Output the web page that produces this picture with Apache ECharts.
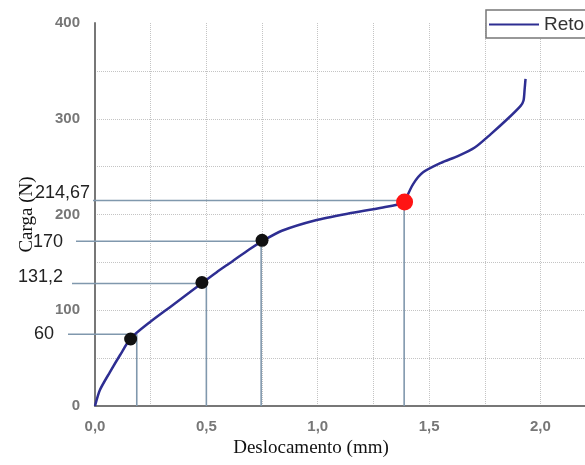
<!DOCTYPE html>
<html>
<head>
<meta charset="utf-8">
<script src="https://cdnjs.cloudflare.com/ajax/libs/echarts/6.0.0/echarts.min.js"></script>
<style>
  html, body { margin: 0; padding: 0; background: #fff; }
  #myChart { width: 585px; height: 465px; }
</style>
</head>
<body>
<div id="myChart"></div>
<script type="text/javascript">

  // curve (displacement mm, load N)
  var curveX = [0, 0.022, 0.067, 0.112, 0.161, 0.246, 0.335, 0.424, 0.478, 0.545, 0.616, 0.692, 0.75,
    0.839, 0.991, 1.138, 1.286, 1.393, 1.397, 1.429, 1.473, 1.554, 1.629, 1.705, 1.777, 1.853, 1.911, 1.924, 1.929, 1.933];
  var curveY = [0, 16.7, 35.4, 53, 70.8, 87.5, 103, 118.5, 128, 139.5, 151, 163.5, 172,
    183, 194, 201, 207, 212.5, 216.7, 232, 244, 254, 261, 270, 284, 300, 313.5, 319, 331, 341.7];

  // marked points
  var markerX = [0.16, 0.48, 0.75, 1.39];
  var markerY = [70, 129, 173, 213];
  var markerColors = ['#111', '#111', '#111', '#ff1414'];

  // guide lines and their labels
  var guideX = [0.1875, 0.5, 0.746, 1.388];
  var guideY = [75, 128, 172, 214.67];
  var guideLabels = ['60', '131,2', '170', '214,67'];

  var xTicks = [0, 0.5, 1.0, 1.5, 2.0];
  var yTicks = [0, 100, 200, 300, 400];

  // label placement for each guide (pixels, relative to the y axis)
  var guideLayout = [
    { start: -27, gap: 14, dy: 0 },
    { start: -23, gap: 9, dy: -6 },
    { start: -19, gap: 13, dy: 1 },
    { start: -2, gap: 3, dy: -7 }
  ];

  var chartDom = document.getElementById('myChart');
  var myChart = echarts.init(chartDom);

  var curveData = curveX.map(function (x, i) { return [x, curveY[i]]; });
  var markerData = markerX.map(function (x, i) {
    return { value: [x, markerY[i]], itemStyle: { color: markerColors[i] }, symbolSize: i === 3 ? 17 : 13 };
  });
  var guideData = guideX.map(function (x, i) { return [x, guideY[i]]; });

  var lineCol = '#8098ad';

  var option = {
    backgroundColor: '#fff',
    animation: false,
    grid: { left: 95, right: -3, top: 23, bottom: 59 },
    legend: {
      left: 486, top: 10,
      data: ['Reto'],
      icon: 'rect', itemWidth: 50, itemHeight: 2,
      borderColor: '#777', borderWidth: 1.5, backgroundColor: '#fff',
      padding: [5, 20, 4, 3],
      textStyle: { fontSize: 19, color: '#333', fontFamily: 'Liberation Sans' }
    },
    xAxis: {
      type: 'value', min: 0, max: 2.2, interval: 0.25,
      name: 'Deslocamento (mm)', nameLocation: 'middle', nameGap: 32,
      nameTextStyle: { fontFamily: 'Liberation Serif', fontSize: 19, color: '#111', padding: [0, 58, 0, 0] },
      axisLine: { lineStyle: { color: '#777', width: 2 } },
      axisTick: { show: false },
      axisLabel: {
        margin: 13, color: '#777', fontSize: 15, fontWeight: 'bold', fontFamily: 'Liberation Sans',
        showMaxLabel: false,
        formatter: function (v) {
          return xTicks.some(function (t) { return Math.abs(t - v) < 1e-6; }) ? v.toFixed(1).replace('.', ',') : '';
        }
      },
      splitLine: { show: true, showMinLine: false, lineStyle: { color: '#c4c4c4', type: 'dotted', width: 1 } }
    },
    yAxis: {
      type: 'value', min: 0, max: 400, interval: 50,
      name: 'Carga (N)', nameLocation: 'middle', nameGap: 58,
      nameTextStyle: { fontFamily: 'Liberation Serif', fontSize: 19, color: '#111' },
      axisLine: { show: true, lineStyle: { color: '#777', width: 2 } },
      axisTick: { show: false },
      axisLabel: {
        margin: 15, color: '#777', fontSize: 15, fontWeight: 'bold', fontFamily: 'Liberation Sans',
        formatter: function (v) { return yTicks.indexOf(v) >= 0 ? String(v) : ''; }
      },
      splitLine: { show: true, showMinLine: false, showMaxLine: false, lineStyle: { color: '#c4c4c4', type: 'dotted', width: 1 } }
    },
    series: [
      {
        type: 'custom',
        name: 'guides',
        clip: false,
        silent: true,
        z: 1,
        data: guideData,
        renderItem: function (params, api) {
          var pt = api.coord([api.value(0), api.value(1)]);
          var origin = api.coord([0, 0]);
          var lay = guideLayout[params.dataIndex];
          var x0 = origin[0] + lay.start;
          return {
            type: 'group',
            children: [
              { type: 'line', shape: { x1: x0, y1: pt[1], x2: pt[0], y2: pt[1] },
                style: { stroke: lineCol, lineWidth: 1.6 } },
              { type: 'line', shape: { x1: pt[0], y1: pt[1], x2: pt[0], y2: origin[1] },
                style: { stroke: lineCol, lineWidth: 1.6 } },
              { type: 'text', x: x0 - lay.gap, y: pt[1] + lay.dy,
                style: { text: guideLabels[params.dataIndex], align: 'right', verticalAlign: 'middle',
                  fontSize: 18, fontFamily: 'Liberation Sans', fill: '#222' } }
            ]
          };
        }
      },
      {
        type: 'line',
        name: 'Reto',
        data: curveData,
        showSymbol: false,
        smooth: 0.25,
        z: 3,
        color: '#2e2e92',
        lineStyle: { color: '#2e2e92', width: 2.5 }
      },
      {
        type: 'scatter',
        name: 'pontos',
        data: markerData,
        z: 4,
        itemStyle: { opacity: 1 }
      }
    ]
  };

  option && myChart.setOption(option);
</script>
</body>
</html>
